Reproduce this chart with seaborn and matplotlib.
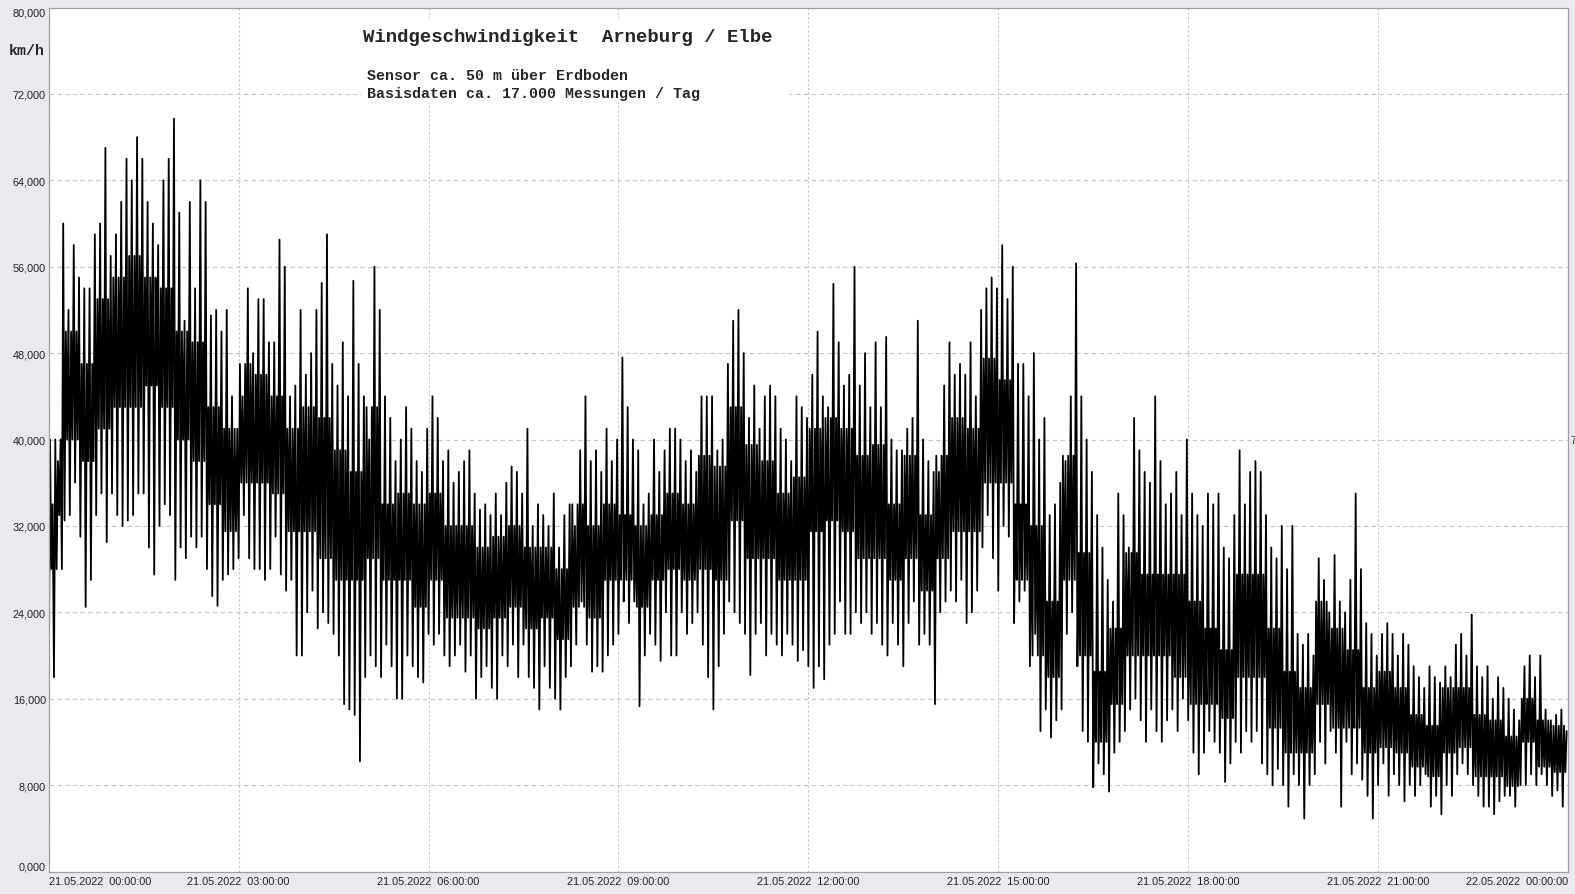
import numpy as np
import pandas as pd
import matplotlib.pyplot as plt
from matplotlib.patches import Rectangle
from matplotlib.ticker import MultipleLocator
import seaborn as sns

# wind speed in km/h, one peak and one trough per 5-minute slot, 21.05.2022 00:00 - 24:00
peaks_00_04 = [34, 38, 60, 52, 58, 55, 54, 54, 59, 60, 67, 57, 59, 62, 66, 64, 68, 66, 62, 60, 58, 64, 66, 69.7,
               61, 51, 62, 54, 64, 62, 51.5, 52, 50, 52, 44, 41, 44, 54, 48, 53, 53, 49, 49, 58.5, 56, 44, 45, 52]
troughs_00_04 = [15, 18, 33, 32.5, 33, 36, 31, 24.5, 27, 33, 35, 30.5, 35, 33, 32, 32.5, 33, 35, 35, 30, 27.5, 32, 34, 33,
                 27, 30, 29, 31, 30, 31, 28, 25.5, 24.6, 27, 27.5, 28, 29, 33, 29, 28, 28, 27, 28, 31, 27.5, 26, 27, 20]
peaks_04_08 = [46, 48, 52, 54.5, 59, 47, 45, 49, 44, 54.7, 47, 44, 40, 56, 52, 44, 42, 38, 40, 43, 41, 38, 37, 41,
               44, 42, 38, 39, 36, 37, 38, 39, 35, 33.5, 34, 33, 35, 33, 36, 37.5, 37, 35, 41, 32, 34, 33, 32, 35]
troughs_04_08 = [20, 24, 26, 22.5, 24, 23, 22, 20, 15.5, 15, 14.5, 10.2, 18, 20, 19, 18, 21, 19, 16, 16, 20, 19, 18, 17.5,
                 22, 21, 22, 20, 19, 20, 21, 18.5, 20, 16, 18, 19, 17, 16, 20, 19, 21, 18, 21, 18, 17, 15, 19, 17]
peaks_08_12 = [30, 33, 34, 32, 39, 44, 38, 39, 37, 41, 38, 40, 47.6, 43, 40, 39, 34, 35, 40, 37, 39, 41, 41, 40,
               38, 39, 37, 44, 44, 44, 39, 40, 47, 51, 52, 48, 42, 45, 41, 44, 45, 44, 41, 40, 38, 44, 43, 42]
troughs_08_12 = [16, 15, 18, 19, 21, 25, 21, 18.5, 19, 18.5, 20, 21, 22, 25, 23, 25, 15.3, 20, 22, 21, 19.5, 24, 20, 20,
                 24, 22, 23, 24, 21, 18, 15, 19, 22, 25, 24, 23, 22, 18.2, 22, 23, 20, 22, 21, 20, 22, 21, 19.5, 20.5]
peaks_12_16 = [46, 50, 44, 43, 54.4, 49, 45, 46, 56, 45, 48, 43, 49, 43, 49.5, 40, 39, 39, 41, 42, 51, 40, 38, 37,
               37, 45, 49, 46, 47, 46, 49, 44, 52, 54, 55, 54, 58, 53, 56, 47, 47, 44, 48, 40, 42, 33, 34, 36]
troughs_12_16 = [19, 17, 19, 17.8, 21, 22, 25, 22, 22, 24, 23, 24, 22, 23, 21, 20, 23, 21, 19, 23, 25, 21, 22, 21,
                 15.5, 24, 25, 26, 25, 27, 23, 24, 26, 30, 33, 29, 26, 32, 31, 23, 25, 26, 19, 22, 13, 15, 12.4, 14]
peaks_16_20 = [38, 44, 56.3, 44, 40, 37, 33, 30, 27, 25, 35, 33, 30, 42, 39, 37, 36, 44, 38, 34, 35, 37, 33, 40,
               35, 33, 32, 35, 34, 35, 30, 29, 33, 39, 34, 37, 38, 37, 33, 30, 29, 32, 28, 32, 22, 21, 22, 20]
troughs_16_20 = [15, 22, 24, 19, 13, 12, 7.8, 10, 9, 7.4, 11, 12, 13, 15, 16, 14, 12, 15, 13, 12, 14, 15, 13, 16,
                 14, 11, 9, 11, 13, 12, 11, 8.3, 10, 12, 11, 13, 12, 13, 10, 9, 8, 9.5, 8, 6, 9, 8, 4.9, 8]
peaks_20_24 = [29, 27, 24, 29.3, 25, 24, 27, 35, 28, 23, 22, 20, 22, 23, 22, 20, 22, 21, 19, 18, 17, 19, 18, 17.5,
               19, 18, 21, 22, 20, 23.8, 19, 18, 19, 16, 18, 17, 16, 15, 14, 19, 20, 18, 20, 15, 14, 14.5, 15, 13]
troughs_20_24 = [9, 12, 10, 13, 11, 6, 12, 9, 10, 8.5, 7, 4.9, 8, 10, 7, 9, 8, 6.5, 8, 7, 8, 9, 6, 7,
                 5.3, 8, 7, 9, 10, 9, 8, 7, 6, 6, 5.3, 6.5, 7, 7, 6, 8, 8, 9, 8, 9, 8, 7, 7.5, 6]

# dense core of the trace (km/h), upper and lower edge per 15-minute slot
core_hi = [40, 50, 47, 53, 55, 57, 55, 54, 50, 49, 43, 41, 47, 46, 44, 41,
           43, 42, 39, 37, 43, 34, 35, 34, 35, 32, 32, 30, 31, 32, 30, 30,
           28, 34, 32, 34, 33, 32, 33, 35, 34, 38.5, 37.5, 43, 39.5, 38, 35, 36.5,
           41, 42, 41, 38.5, 39.5, 34, 38.5, 33, 38.5, 42, 41, 47.5, 45.5, 34, 32, 25,
           38.5, 29.5, 18.5, 22.5, 29.5, 27.5, 27.5, 27.5, 25, 22.5, 20.5, 27.5, 27.5, 22.5, 18.5, 17,
           25, 22.5, 20.5, 17, 18.5, 17, 14.5, 13.5, 17, 17, 14.5, 14, 12.5, 16, 14, 13.5]
core_lo = [28, 40, 38, 41, 43, 43, 45, 43, 40, 38, 34, 31.5, 36, 36, 35, 31.5,
           31.5, 29, 27, 27, 29, 27, 27, 24.5, 27, 23.5, 23.5, 22.5, 23.5, 24.5, 22.5, 23.5,
           21.5, 24.5, 23.5, 27, 27, 24.5, 27, 28, 27, 28, 27, 32.5, 29, 29, 27, 27,
           31.5, 32.5, 31.5, 29, 29, 27, 29, 26, 29, 31.5, 31.5, 36, 36, 27, 20, 18,
           27, 20, 12, 15.5, 20, 20, 20, 18, 15.5, 15.5, 14.2, 18, 18, 13.3, 11, 11,
           15.5, 13.3, 13.3, 11, 11.5, 11, 9.7, 8.8, 11, 11.5, 8.8, 8.8, 7.9, 12, 9.7, 9.2]

tick_hours = [0, 3, 6, 9, 12, 15, 18, 21, 24]
tick_labels = ['21.05.2022  00:00:00', '21.05.2022  03:00:00', '21.05.2022  06:00:00',
               '21.05.2022  09:00:00', '21.05.2022  12:00:00', '21.05.2022  15:00:00',
               '21.05.2022  18:00:00', '21.05.2022  21:00:00', '22.05.2022  00:00:00']
ytick_values = [0, 8, 16, 24, 32, 40, 48, 56, 64, 72, 80]

peaks = np.array(peaks_00_04 + peaks_04_08 + peaks_08_12 + peaks_12_16 + peaks_16_20 + peaks_20_24)
troughs = np.array(troughs_00_04 + troughs_04_08 + troughs_08_12 + troughs_12_16 + troughs_16_20 + troughs_20_24)
# each 15-minute core reading holds for its three 5-minute slots
slot_core_hi = np.repeat(core_hi, 3)
slot_core_lo = np.repeat(core_lo, 3)

# trace order inside a slot: trough, core top, core bottom, peak
slot = np.arange(len(peaks)) * 5 / 60
hours = np.column_stack([slot, slot + 1.25 / 60, slot + 2.5 / 60, slot + 3.75 / 60]).ravel()
speed = np.column_stack([troughs, slot_core_hi, slot_core_lo, peaks]).ravel()
df = pd.DataFrame({'hour': hours, 'speed': speed})

sns.set_style('white')
plt.rcParams['font.family'] = ['Liberation Sans', 'DejaVu Sans']

bg = '#e8eaf0'
W, H = 1575, 895
fig = plt.figure(figsize=(W / 100, H / 100), dpi=100, facecolor=bg)
ax = fig.add_axes([48.7 / W, (H - 872.5) / H, (1568 - 48.7) / W, (872.5 - 8.5) / H])
ax.set_facecolor('white')

sns.lineplot(data=df, x='hour', y='speed', color='black', lw=1.3, estimator=None,
             sort=False, ax=ax)

ax.set_xlim(0, 24)
ax.set_ylim(0, 80)
ax.set_xlabel('')
ax.set_ylabel('')
ax.set_xticks(tick_hours, labels=tick_labels)
ax.set_yticks(ytick_values, labels=[f'{v:.3f}'.replace('.', ',') for v in ytick_values])
ax.xaxis.set_minor_locator(MultipleLocator(0.75))
ax.yaxis.set_minor_locator(MultipleLocator(2))
ax.tick_params(which='major', length=0, labelsize=7.8, colors='#222222')
ax.tick_params(axis='x', which='major', pad=3.2)
ax.tick_params(axis='y', which='major', pad=2)
ax.tick_params(which='minor', direction='in', length=4, width=0.7, color='#9a9a9a')

xl = ax.get_xticklabels()
xl[0].set_ha('left')
xl[-1].set_ha('right')
yl = ax.get_yticklabels()
yl[0].set_va('bottom')
yl[-1].set_va('top')

ax.set_axisbelow(True)
ax.grid(axis='y', ls=(0, (4, 3)), color='#c4c4c4', lw=0.8)
ax.grid(axis='x', ls=(0, (2, 2)), color='#c4c4c4', lw=0.8)
for s in ax.spines.values():
    s.set_color('#a0a0a0')
    s.set_linewidth(0.9)

# white box behind the heading
fig.add_artist(Rectangle((362 / W, 1 - 104 / H), (790 - 362) / W, (104 - 20) / H,
                         transform=fig.transFigure, facecolor='white', edgecolor='none', zorder=1))

mono = ['Liberation Mono', 'DejaVu Sans Mono']
fig.text(363 / W, 1 - 37.7 / H, 'Windgeschwindigkeit  Arneburg / Elbe', family=mono,
         weight='bold', size=13.7, va='center', ha='left', zorder=2)
fig.text(367 / W, 1 - 75.7 / H, 'Sensor ca. 50 m über Erdboden', family=mono,
         weight='bold', size=10.8, va='center', ha='left', zorder=2)
fig.text(367 / W, 1 - 94.3 / H, 'Basisdaten ca. 17.000 Messungen / Tag', family=mono,
         weight='bold', size=10.8, va='center', ha='left', zorder=2)
fig.text(8.3 / W, 1 - 51 / H, 'km/h', family=mono, weight='bold', size=10.8,
         va='center', ha='left')
fig.text(1570 / W, 1 - 441 / H, '7', size=7.6, va='center', ha='left', color='#222222')

fig.savefig('out.png', dpi=100, facecolor=bg)
